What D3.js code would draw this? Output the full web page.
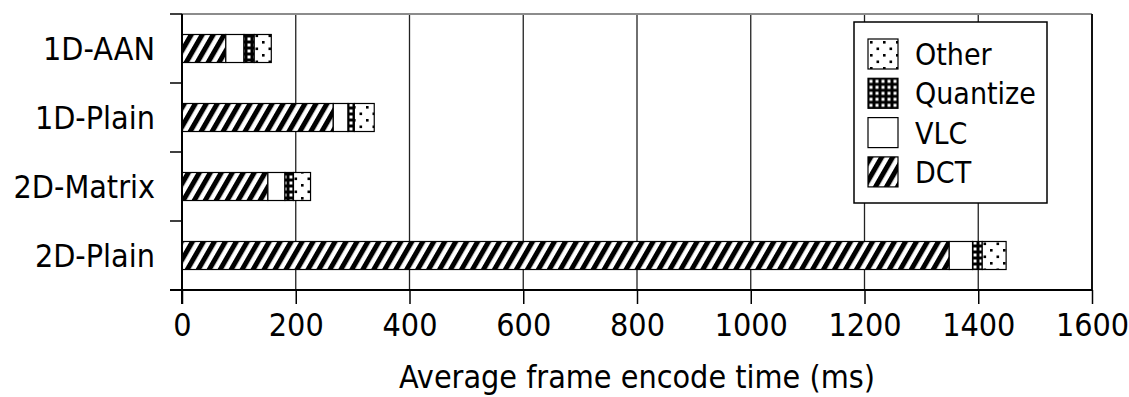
<!DOCTYPE html>
<html>
<head>
<meta charset="utf-8">
<script src="https://cdn.jsdelivr.net/npm/d3@7"></script>
<style>
  html, body { margin: 0; padding: 0; background: #fff; }
  svg { display: block; }
  text { font-family: "DejaVu Sans Condensed", "DejaVu Sans", sans-serif; fill: #000; }
</style>
</head>
<body>
<svg id="chart" width="1129" height="397"></svg>
<script>
// Encoder variants, top to bottom
const categories = ["1D-AAN", "1D-Plain", "2D-Matrix", "2D-Plain"];
// Per-stage average frame encode time (ms)
const dctValues      = [77, 266, 151, 1349];
const vlcValues      = [32, 26, 30, 41];
const quantizeValues = [18, 11, 15, 17];
const otherValues    = [30, 35, 30, 42];
// Stack order, left to right
const stages = ["DCT", "VLC", "Quantize", "Other"];
const xTicks = [0, 200, 400, 600, 800, 1000, 1200, 1400, 1600];
const xTitle = "Average frame encode time (ms)";

const rows = categories.map((c, i) => ({
  category: c,
  DCT: dctValues[i], VLC: vlcValues[i], Quantize: quantizeValues[i], Other: otherValues[i]
}));

const svg = d3.select("#chart");
const plotLeft = 182, plotRight = 1092, plotTop = 14, plotBottom = 290;

const x = d3.scaleLinear().domain([0, 1600]).range([plotLeft, plotRight]);
const y = d3.scaleBand().domain(categories).range([plotTop, plotBottom])
  .paddingInner(0.594).paddingOuter(0.297);

// Fill patterns for each stage
const defs = svg.append("defs");
const pDct = defs.append("pattern").attr("id", "pat-DCT")
  .attr("patternUnits", "userSpaceOnUse").attr("width", 9.5).attr("height", 20)
  .attr("patternTransform", "rotate(30)");
pDct.append("rect").attr("width", 9.5).attr("height", 20).attr("fill", "#fff");
pDct.append("rect").attr("width", 5).attr("height", 20).attr("fill", "#000");

const pVlc = defs.append("pattern").attr("id", "pat-VLC")
  .attr("patternUnits", "userSpaceOnUse").attr("width", 4).attr("height", 4);
pVlc.append("rect").attr("width", 4).attr("height", 4).attr("fill", "#fff");

const pQ = defs.append("pattern").attr("id", "pat-Quantize")
  .attr("patternUnits", "userSpaceOnUse").attr("width", 6).attr("height", 6);
pQ.append("rect").attr("width", 6).attr("height", 6).attr("fill", "#000");
pQ.append("rect").attr("x", 1.5).attr("y", 1.5).attr("width", 3).attr("height", 3).attr("fill", "#fff");

const pO = defs.append("pattern").attr("id", "pat-Other")
  .attr("patternUnits", "userSpaceOnUse").attr("width", 13).attr("height", 13);
pO.append("rect").attr("width", 13).attr("height", 13).attr("fill", "#fff");
pO.append("rect").attr("x", 2).attr("y", 2).attr("width", 2.6).attr("height", 2.6).attr("fill", "#000");
pO.append("rect").attr("x", 8.5).attr("y", 8.5).attr("width", 2.6).attr("height", 2.6).attr("fill", "#000");

// Vertical gridlines
svg.append("g").selectAll("line").data(xTicks.slice(1, -1)).join("line")
  .attr("x1", d => x(d)).attr("x2", d => x(d))
  .attr("y1", plotTop).attr("y2", plotBottom)
  .attr("stroke", "#222").attr("stroke-width", 1.3);

// Top and right frame
svg.append("line").attr("x1", plotLeft).attr("x2", plotRight).attr("y1", plotTop).attr("y2", plotTop)
  .attr("stroke", "#8c8c8c").attr("stroke-width", 2);
svg.append("line").attr("x1", plotRight).attr("x2", plotRight).attr("y1", plotTop).attr("y2", plotBottom)
  .attr("stroke", "#111").attr("stroke-width", 2);

// Stacked bars
const stacked = d3.stack().keys(stages)(rows);
svg.append("g").selectAll("g").data(stacked).join("g")
  .attr("fill", d => `url(#pat-${d.key})`)
  .selectAll("rect").data(d => d).join("rect")
  .attr("x", d => x(d[0]))
  .attr("width", d => x(d[1]) - x(d[0]))
  .attr("y", d => y(d.data.category))
  .attr("height", y.bandwidth())
  .attr("stroke", "#000").attr("stroke-width", 1.2);

// Bottom axis
const xAxis = svg.append("g").attr("transform", `translate(0,${plotBottom})`)
  .call(d3.axisBottom(x).tickValues(xTicks).tickSize(14).tickPadding(9).tickFormat(d3.format("d")));
xAxis.select(".domain").attr("stroke", "#000").attr("stroke-width", 2)
  .attr("d", `M${plotLeft - 12},0H${plotRight}`);
xAxis.selectAll(".tick line").attr("stroke", "#000").attr("stroke-width", 1.5);
xAxis.selectAll(".tick text").attr("font-size", 32)
  .style("font-family", "'DejaVu Sans Condensed', 'DejaVu Sans', sans-serif").attr("fill", "#000");

// Left axis: band boundary ticks and category labels
const bounds = categories.map(c => y(c) - y.step() * y.paddingOuter()).concat([plotBottom]);
const yAxisG = svg.append("g");
yAxisG.append("line").attr("x1", plotLeft).attr("x2", plotLeft).attr("y1", plotTop).attr("y2", plotBottom + 14)
  .attr("stroke", "#000").attr("stroke-width", 2);
yAxisG.selectAll("line.bt").data(bounds).join("line").attr("class", "bt")
  .attr("x1", plotLeft - 12).attr("x2", plotLeft).attr("y1", d => d).attr("y2", d => d)
  .attr("stroke", "#000").attr("stroke-width", 1.5);
yAxisG.selectAll("text").data(categories).join("text")
  .attr("x", 155).attr("y", d => y(d) + y.bandwidth() / 2)
  .attr("dy", "0.36em").attr("text-anchor", "end").attr("font-size", 32)
  .text(d => d);

// Axis title
svg.append("text").attr("x", (plotLeft + plotRight) / 2).attr("y", 388)
  .attr("text-anchor", "middle").attr("font-size", 32).text(xTitle);

// Legend
const lg = svg.append("g");
lg.append("rect").attr("x", 854).attr("y", 22).attr("width", 193).attr("height", 181)
  .attr("fill", "#fff").attr("stroke", "#000").attr("stroke-width", 1.5);
const legendKeys = stages.slice().reverse();
const item = lg.selectAll("g.item").data(legendKeys).join("g").attr("class", "item")
  .attr("transform", (d, i) => `translate(868,${39 + i * 39.3})`);
item.append("rect").attr("width", 30).attr("height", 30)
  .attr("fill", d => `url(#pat-${d})`).attr("stroke", "#000").attr("stroke-width", 1.2);
item.append("text").attr("x", 47).attr("y", 26).attr("font-size", 30).text(d => d);
</script>
</body>
</html>
